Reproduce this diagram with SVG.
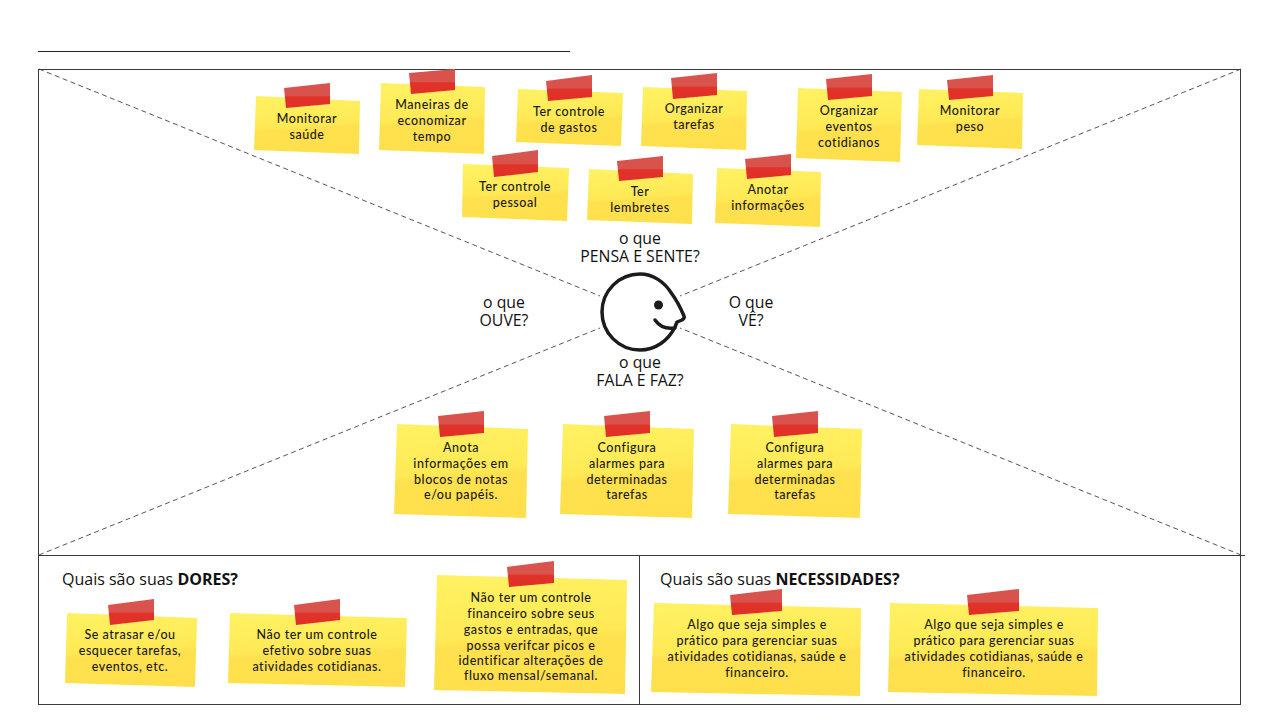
<svg xmlns="http://www.w3.org/2000/svg" width="1280" height="720" viewBox="0 0 1280 720">
<style>
.frame{fill:none;stroke:#3a3a3a;stroke-width:1}
.diag{fill:none;stroke:#555;stroke-width:1;stroke-dasharray:5 3.5}
.note{fill:url(#paper)}
.tape{fill:url(#tapefill)}
.nt{font-family:"Lato","Noto Sans",sans-serif;font-size:12.5px;font-weight:500;letter-spacing:.55px;fill:#1a1a1a;text-anchor:middle}
.lb{font-family:"Open Sans","Noto Sans",sans-serif;font-size:15.8px;fill:#111;text-anchor:middle}
.hd{font-family:"Open Sans","Noto Sans",sans-serif;font-size:16px;fill:#111}
.hd tspan{font-weight:700}
.face{fill:none;stroke:#1c1c1c;stroke-width:3.5;stroke-linecap:round;stroke-linejoin:round}
</style>
<defs>
<linearGradient id="paper" x1="0" y1="0" x2=".12" y2="1">
<stop offset="0" stop-color="#fff263"/><stop offset=".55" stop-color="#ffe955"/><stop offset=".62" stop-color="#ffe04e"/><stop offset="1" stop-color="#ffe04c"/>
</linearGradient>
<linearGradient id="tapefill" x1="0" y1="0" x2="0" y2="1">
<stop offset="0" stop-color="#d9544f"/><stop offset=".5" stop-color="#d9524c"/><stop offset=".55" stop-color="#e1332a"/><stop offset="1" stop-color="#e02f26"/>
</linearGradient>
</defs>
<rect width="1280" height="720" fill="#fff"/>
<g id="connectors">
<line class="diag" x1="39" y1="69" x2="600" y2="296"/>
<line class="diag" x1="1241" y1="69" x2="680" y2="296"/>
<line class="diag" x1="39" y1="555" x2="600" y2="328"/>
<line class="diag" x1="1241" y1="555" x2="680" y2="328"/>
</g>
<g id="frame">
<line x1="38" y1="51.500" x2="570" y2="51.500" stroke="#222" stroke-width="1"/>
<rect class="frame" x="38.500" y="69.500" width="1202" height="635"/>
<line class="frame" x1="39" y1="555.500" x2="1245" y2="555.500"/>
<line class="frame" x1="639.500" y1="555" x2="639.500" y2="705"/>
</g>
<g id="face">
<path class="face" d="M684 316C681 309 678 302 672 294C664 281 652 274 640 274C619 274 602 291 602 312C602 333 619 350 640 350C655 350 668 341 675 327L677 322L682 320Q685 318 684 316Z"/>
<path class="face" d="M655 320Q662 330 675 328"/>
<circle cx="658.500" cy="305" r="4.500" fill="#1c1c1c"/>
</g>
<g id="labels">
<text class="lb" y="244"><tspan x="640">o que</tspan><tspan x="640" dy="18">PENSA E SENTE?</tspan></text>
<text class="lb" y="308"><tspan x="751">O que</tspan><tspan x="751" dy="18">VÊ?</tspan></text>
<text class="lb" y="308"><tspan x="504">o que</tspan><tspan x="504" dy="18">OUVE?</tspan></text>
<text class="lb" y="368"><tspan x="640">o que</tspan><tspan x="640" dy="18">FALA E FAZ?</tspan></text>
<text class="hd" x="62" y="585">Quais são suas <tspan>DORES?</tspan></text>
<text class="hd" x="660" y="585">Quais são suas <tspan>NECESSIDADES?</tspan></text>
</g>
<g id="n1"><polygon class="note" points="256,96 360,101 359,154 254,150"/><polygon class="tape" points="284,88 330,83 330,104 286,108"/><text class="nt" x="307" y="122.500">Monitorar</text><text class="nt" x="307" y="138.500">saúde</text></g>
<g id="n2"><polygon class="note" points="381,83 485,87 484,154 379,150"/><polygon class="tape" points="409,73 455,69 455,90 411,94"/><text class="nt" x="432" y="109">Maneiras de</text><text class="nt" x="432" y="125">economizar</text><text class="nt" x="432" y="141">tempo</text></g>
<g id="n3"><polygon class="note" points="518,89 623,93 621,146 516,142"/><polygon class="tape" points="546,81 592,75 592,97 548,101"/><text class="nt" x="569" y="116">Ter controle</text><text class="nt" x="569" y="132">de gastos</text></g>
<g id="n4"><polygon class="note" points="643,87 747,91 746,150 641,146"/><polygon class="tape" points="671,78 717,73 717,95 673,99"/><text class="nt" x="694" y="113">Organizar</text><text class="nt" x="694" y="129">tarefas</text></g>
<g id="n5"><polygon class="note" points="798,88 902,92 900,162 796,158"/><polygon class="tape" points="826,79 872,74 872,96 828,100"/><text class="nt" x="849" y="115">Organizar</text><text class="nt" x="849" y="131">eventos</text><text class="nt" x="849" y="147">cotidianos</text></g>
<g id="n6"><polygon class="note" points="919,89 1023,93 1022,149 917,145"/><polygon class="tape" points="947,80 993,75 993,96 949,100"/><text class="nt" x="970" y="115">Monitorar</text><text class="nt" x="970" y="131">peso</text></g>
<g id="n7"><polygon class="note" points="463,164 569,168 567,221 462,217"/><polygon class="tape" points="492,156 538,150 538,172 494,177"/><text class="nt" x="515" y="191">Ter controle</text><text class="nt" x="515" y="207">pessoal</text></g>
<g id="n8"><polygon class="note" points="589,169 693,174 692,224 587,220"/><polygon class="tape" points="617,161 663,156 663,177 619,181"/><text class="nt" x="640" y="196">Ter</text><text class="nt" x="640" y="212">lembretes</text></g>
<g id="n9"><polygon class="note" points="717,168 821,172 820,227 715,223"/><polygon class="tape" points="745,159 791,154 791,175 747,179"/><text class="nt" x="768" y="193.500">Anotar</text><text class="nt" x="768" y="209.500">informações</text></g>
<g id="n10"><polygon class="note" points="397,424 528,429 526,518 394,514"/><polygon class="tape" points="438,416 484,411 484,433 440,437"/><text class="nt" x="461" y="452">Anota</text><text class="nt" x="461" y="468">informações em</text><text class="nt" x="461" y="484">blocos de notas</text><text class="nt" x="461" y="499">e/ou papéis.</text></g>
<g id="n11"><polygon class="note" points="563,424 694,429 692,518 560,514"/><polygon class="tape" points="604,416 650,411 650,433 606,437"/><text class="nt" x="627" y="452">Configura</text><text class="nt" x="627" y="468">alarmes para</text><text class="nt" x="627" y="484">determinadas</text><text class="nt" x="627" y="499">tarefas</text></g>
<g id="n12"><polygon class="note" points="731,424 862,429 860,518 728,514"/><polygon class="tape" points="772,416 818,411 818,433 774,437"/><text class="nt" x="795" y="452">Configura</text><text class="nt" x="795" y="468">alarmes para</text><text class="nt" x="795" y="484">determinadas</text><text class="nt" x="795" y="499">tarefas</text></g>
<g id="n13"><polygon class="note" points="67,613 197,618 195,687 65,683"/><polygon class="tape" points="108,605 154,599 154,620 110,625"/><text class="nt" x="130" y="639">Se atrasar e/ou</text><text class="nt" x="130" y="655">esquecer tarefas,</text><text class="nt" x="130" y="671">eventos, etc.</text></g>
<g id="n14"><polygon class="note" points="230,613 407,618 405,687 228,683"/><polygon class="tape" points="294,605 340,599 340,620 296,625"/><text class="nt" x="317" y="639">Não ter um controle</text><text class="nt" x="317" y="655">efetivo sobre suas</text><text class="nt" x="317" y="671">atividades cotidianas.</text></g>
<g id="n15"><polygon class="note" points="437,575 627,580 625,694 434,690"/><polygon class="tape" points="507,567 554,561 554,583 509,587"/><text class="nt" x="531" y="602">Não ter um controle</text><text class="nt" x="531" y="618">financeiro sobre seus</text><text class="nt" x="531" y="634">gastos e entradas, que</text><text class="nt" x="531" y="650">possa verifcar picos e</text><text class="nt" x="531" y="665">identificar alterações de</text><text class="nt" x="531" y="680">fluxo mensal/semanal.</text></g>
<g id="n16"><polygon class="note" points="654,603 861,608 860,696 651,692"/><polygon class="tape" points="730,595 782,589 782,611 732,615"/><text class="nt" x="757" y="629">Algo que seja simples e</text><text class="nt" x="757" y="645">prático para gerenciar suas</text><text class="nt" x="757" y="661">atividades cotidianas, saúde e</text><text class="nt" x="757" y="677">financeiro.</text></g>
<g id="n17"><polygon class="note" points="890,603 1098,608 1097,696 888,692"/><polygon class="tape" points="967,595 1019,589 1019,611 969,615"/><text class="nt" x="994" y="629">Algo que seja simples e</text><text class="nt" x="994" y="645">prático para gerenciar suas</text><text class="nt" x="994" y="661">atividades cotidianas, saúde e</text><text class="nt" x="994" y="677">financeiro.</text></g>
</svg>
